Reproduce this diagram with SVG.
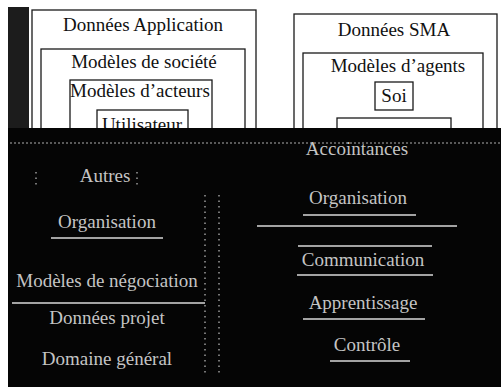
<svg xmlns="http://www.w3.org/2000/svg" width="501" height="387" viewBox="0 0 501 387">
<style>
.box{fill:none;stroke:#1a1a1a;stroke-width:1.3}
.ul{stroke:#d8d8d8;stroke-width:1.6}
.dot{stroke:#9a9a9a;stroke-width:1.5;stroke-dasharray:1.5 4}
</style>
<rect width="501" height="387" fill="#ffffff"/>
<rect x="8" y="7" width="21" height="122" fill="#1c1c1c"/>
<g id="donnees-application">
<rect class="box" x="32" y="10" width="224" height="200"/>
<text x="143" y="31" font-family="Liberation Serif" font-size="19" fill="#111" text-anchor="middle" style="font-family:'Liberation Serif',serif">Données Application</text>
</g>
<g id="modeles-societe">
<rect class="box" x="41" y="49" width="204" height="160"/>
<text x="144" y="68" font-family="Liberation Serif" font-size="19" fill="#111" text-anchor="middle" style="font-family:'Liberation Serif',serif">Modèles de société</text>
</g>
<g id="modeles-acteurs">
<rect class="box" x="70" y="80" width="142" height="120"/>
<text x="70" y="97" font-family="Liberation Serif" font-size="19" fill="#111" style="font-family:'Liberation Serif',serif">Modèles d’acteurs</text>
</g>
<g id="utilisateur">
<rect class="box" x="97" y="110" width="91" height="60"/>
<text x="142" y="131" font-family="Liberation Serif" font-size="19" fill="#111" text-anchor="middle" style="font-family:'Liberation Serif',serif">Utilisateur</text>
</g>
<g id="donnees-sma">
<rect class="box" x="294" y="14" width="203" height="200"/>
<text x="394" y="36" font-family="Liberation Serif" font-size="19" fill="#111" text-anchor="middle" style="font-family:'Liberation Serif',serif">Données SMA</text>
</g>
<g id="modeles-agents">
<rect class="box" x="303" y="53" width="180" height="160"/>
<text x="398" y="72" font-family="Liberation Serif" font-size="19" fill="#111" text-anchor="middle" style="font-family:'Liberation Serif',serif">Modèles d’agents</text>
</g>
<g id="soi">
<rect class="box" x="375" y="82" width="38" height="28"/>
<text x="394" y="102" font-family="Liberation Serif" font-size="19" fill="#111" text-anchor="middle" style="font-family:'Liberation Serif',serif">Soi</text>
</g>
<g id="inner-box">
<rect class="box" x="337" y="118" width="114" height="60"/>
</g>
<rect x="8" y="128" width="493" height="259" fill="#050505"/>
<g id="connectors">
<line class="dot" x1="10" y1="143" x2="500" y2="143" style="stroke-dasharray:2 2;stroke:#777"/>
<line class="ul" x1="257" y1="226" x2="457" y2="226"/>
<line class="ul" x1="298" y1="246" x2="432" y2="246"/>
<line class="dot" x1="205" y1="195" x2="205" y2="375"/>
<line class="dot" x1="219" y1="195" x2="219" y2="375"/>
<line class="dot" x1="36" y1="172" x2="36" y2="186"/>
<line class="dot" x1="137" y1="172" x2="137" y2="186"/>
</g>
<g id="accointances">
<text x="357" y="155" font-family="Liberation Serif" font-size="19" fill="#c4c4c4" text-anchor="middle" style="font-family:'Liberation Serif',serif">Accointances</text>
</g>
<g id="autres">
<text x="105" y="182" font-family="Liberation Serif" font-size="19" fill="#c4c4c4" text-anchor="middle" style="font-family:'Liberation Serif',serif">Autres</text>
</g>
<g id="organisation-gauche">
<text x="107" y="228" font-family="Liberation Serif" font-size="19" fill="#c4c4c4" text-anchor="middle" style="font-family:'Liberation Serif',serif">Organisation</text>
<line class="ul" x1="51" y1="238" x2="163" y2="238"/>
</g>
<g id="organisation-droite">
<text x="358" y="204" font-family="Liberation Serif" font-size="19" fill="#c4c4c4" text-anchor="middle" style="font-family:'Liberation Serif',serif">Organisation</text>
<line class="ul" x1="303" y1="215" x2="416" y2="215"/>
</g>
<g id="communication">
<text x="363" y="266" font-family="Liberation Serif" font-size="19" fill="#c4c4c4" text-anchor="middle" style="font-family:'Liberation Serif',serif">Communication</text>
<line class="ul" x1="297" y1="275" x2="433" y2="275"/>
</g>
<g id="apprentissage">
<text x="363" y="309" font-family="Liberation Serif" font-size="19" fill="#c4c4c4" text-anchor="middle" style="font-family:'Liberation Serif',serif">Apprentissage</text>
<line class="ul" x1="303" y1="319" x2="425" y2="319"/>
</g>
<g id="controle">
<text x="367" y="351" font-family="Liberation Serif" font-size="19" fill="#c4c4c4" text-anchor="middle" style="font-family:'Liberation Serif',serif">Contrôle</text>
<line class="ul" x1="330" y1="361" x2="410" y2="361"/>
</g>
<g id="modeles-negociation">
<text x="107" y="287" font-family="Liberation Serif" font-size="19" fill="#c4c4c4" text-anchor="middle" style="font-family:'Liberation Serif',serif">Modèles de négociation</text>
<line class="ul" x1="12" y1="303" x2="205" y2="303"/>
</g>
<g id="donnees-projet">
<text x="107" y="324" font-family="Liberation Serif" font-size="19" fill="#c4c4c4" text-anchor="middle" style="font-family:'Liberation Serif',serif">Données projet</text>
</g>
<g id="domaine-general">
<text x="107" y="365" font-family="Liberation Serif" font-size="19" fill="#c4c4c4" text-anchor="middle" style="font-family:'Liberation Serif',serif">Domaine général</text>
</g>
</svg>
